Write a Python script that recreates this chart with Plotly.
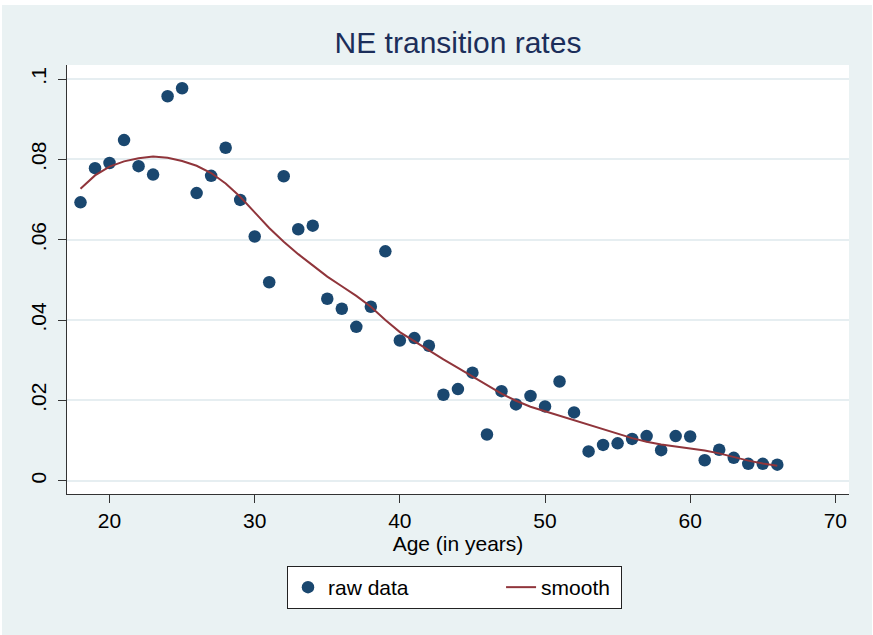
import plotly.graph_objects as go

# ages (years) and observed NE transition rates
age = list(range(18, 67))
raw_rate = [
    0.0693, 0.0778, 0.0791, 0.0848, 0.0783, 0.0762, 0.0957, 0.0977, 0.0716, 0.0759,
    0.0829, 0.0699, 0.0608, 0.0494, 0.0758, 0.0626, 0.0635, 0.0453, 0.0428, 0.0383,
    0.0433, 0.0571, 0.0349, 0.0355, 0.0336, 0.0214, 0.0228, 0.0269, 0.0115, 0.0223,
    0.0190, 0.0211, 0.0185, 0.0247, 0.0170, 0.0073, 0.0089, 0.0093, 0.0104, 0.0111,
    0.0076, 0.0111, 0.0110, 0.0051, 0.0077, 0.0057, 0.0042, 0.0042, 0.0040,
]
# lowess-style smooth
smooth_rate = [
    0.0727, 0.0760, 0.0782, 0.0795, 0.0803, 0.0807, 0.0804, 0.0796, 0.0784, 0.0766,
    0.0740, 0.0707, 0.0668, 0.0629, 0.0595, 0.0564, 0.0536, 0.0508, 0.0484, 0.0460,
    0.0433, 0.0400, 0.0370, 0.0347, 0.0324, 0.0302, 0.0281, 0.0260, 0.0238, 0.0217,
    0.0199, 0.0184, 0.0173, 0.0162, 0.0151, 0.0140, 0.0128, 0.0117, 0.0106, 0.0097,
    0.0090, 0.0085, 0.0080, 0.0075, 0.0068, 0.0059, 0.0050, 0.0043, 0.0037,
]

x_ticks = [20, 30, 40, 50, 60, 70]
y_ticks = [0, 0.02, 0.04, 0.06, 0.08, 0.1]
y_labels = ["0", ".02", ".04", ".06", ".08", ".1"]

NAVY = "#1a476f"
MAROON = "#90353b"
BG = "#eaf2f3"
FONT = "Liberation Sans, Arial, sans-serif"

W, H = 873, 635
L, R, T, B = 67, 24, 65, 141
PW, PH = W - L - R, H - T - B

NBSP = "\u00a0"

fig = go.Figure()
fig.add_trace(go.Scatter(
    x=age, y=raw_rate, mode="markers",
    name="raw data" + NBSP * 15,  # padding spreads the two legend entries apart
    marker=dict(color=NAVY, size=12.5, line=dict(width=0)),
))
fig.add_trace(go.Scatter(
    x=age, y=smooth_rate, mode="lines", name="smooth" + NBSP,
    line=dict(color=MAROON, width=2),
))

px = lambda p: (p - L) / PW
py = lambda p: (H - B - p) / PH

fig.update_layout(
    width=W, height=H,
    margin=dict(l=L, r=R, t=T, b=B),
    paper_bgcolor=BG,
    plot_bgcolor="white",
    font=dict(family=FONT, size=21, color="black"),
    title=dict(
        text="NE transition rates",
        font=dict(size=30, color="#1c2e5a"),
        x=(L + PW / 2) / W, xanchor="center",
        y=1 - 42 / H, yanchor="middle", yref="container",
    ),
    showlegend=True,
    legend=dict(
        orientation="h",
        x=px(287), xanchor="left",
        y=py(566), yanchor="top",
        bgcolor="white", bordercolor="#222222", borderwidth=1,
        font=dict(size=21),
    ),
)

fig.update_xaxes(
    range=[17.07, 70.94],
    tickvals=x_ticks,
    ticks="outside", ticklen=8, tickcolor="#333333",
    showline=True, linecolor="#333333", linewidth=1,
    showgrid=False, zeroline=False, automargin=False,
    title=dict(text="Age (in years)", standoff=4, font=dict(size=21)),
)
fig.update_yaxes(
    range=[-0.00331, 0.10349],
    tickvals=y_ticks, ticktext=y_labels, tickangle=-90,
    ticks="outside", ticklen=8, tickcolor="#333333",
    showline=True, linecolor="#333333", linewidth=1,
    showgrid=True, gridcolor="#e6eef1", gridwidth=1.5,
    zeroline=False, automargin=False, ticklabelstandoff=4,
)

# thin white frame around the graph region
for x0, y0, x1, y1 in [(0, 0, W, 5), (0, 0, 2, H), (872, 0, W, H)]:
    fig.add_shape(type="rect", xref="paper", yref="paper",
                  x0=px(x0), x1=px(x1), y0=py(y0), y1=py(y1),
                  fillcolor="white", line=dict(width=0), layer="below")

# drop the browser's default body margin so the figure sits at the page corner
fig.write_html(
    "out.html",
    config={"displayModeBar": False},
    post_script="document.body.style.margin='0';",
)
